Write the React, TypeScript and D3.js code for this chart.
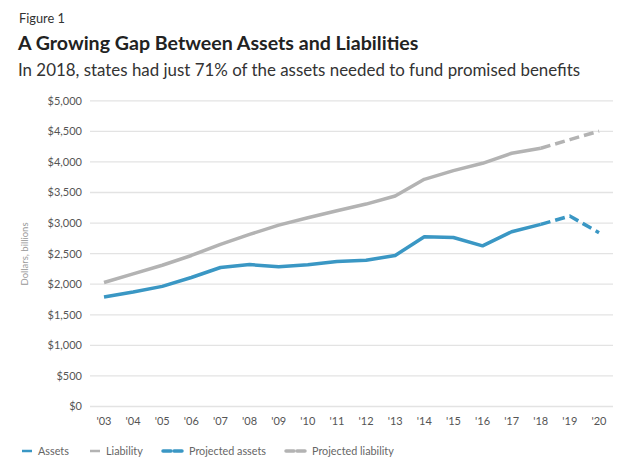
import React from "react";
import * as d3 from "d3";

const years = ["'03","'04","'05","'06","'07","'08","'09","'10","'11","'12","'13","'14","'15","'16","'17","'18","'19","'20"];
const assets = [1790, 1872, 1965, 2110, 2273, 2322, 2284, 2317, 2372, 2393, 2470, 2776, 2765, 2628, 2858, 2978, null, null];
const liability = [2028, 2170, 2310, 2470, 2651, 2815, 2967, 3087, 3202, 3311, 3443, 3716, 3858, 3978, 4142, 4224, null, null];
const projAssets = [null, null, null, null, null, null, null, null, null, null, null, null, null, null, null, 2978, 3115, 2842];
const projLiability = [null, null, null, null, null, null, null, null, null, null, null, null, null, null, null, 4224, 4365, 4503];
const yTicks = [0, 500, 1000, 1500, 2000, 2500, 3000, 3500, 4000, 4500, 5000];

const BLUE = "#3a97c4";
const GRAY = "#b3b3b3";
const FONT = "Lato, 'Open Sans', sans-serif";

export default function App() {
  const W = 640, H = 467;
  const x = d3.scalePoint<string>().domain(years).range([104, 599]);
  const y = d3.scaleLinear().domain([0, 5000]).range([406.5, 100.8]);
  const line = d3
    .line<number | null>()
    .defined((d) => d != null)
    .x((_, i) => x(years[i]) as number)
    .y((d) => y(d as number));

  const legend = [
    { label: "Assets", color: BLUE, dashed: false, x0: 22, tx: 38 },
    { label: "Liability", color: GRAY, dashed: false, x0: 90, tx: 106 },
    { label: "Projected assets", color: BLUE, dashed: true, x0: 163, tx: 189 },
    { label: "Projected liability", color: GRAY, dashed: true, x0: 286, tx: 312 },
  ];

  return (
    <svg width={W} height={H} style={{ position: "absolute", left: 0, top: 0, background: "#fff" }} fontFamily={FONT}>
      <text x={19} y={23} fontSize={12.8} fill="#333">Figure 1</text>
      <text x={18} y={50} fontSize={19.6} fontWeight={700} fill="#222">A Growing Gap Between Assets and Liabilities</text>
      <text x={18} y={76} fontSize={16.9} fill="#333">In 2018, states had just 71% of the assets needed to fund promised benefits</text>

      {yTicks.map((t) => (
        <g key={t}>
          <line x1={90} x2={613} y1={y(t)} y2={y(t)} stroke="#e3e3e3" strokeWidth={1.3} />
          <text x={82} y={y(t)} dy="0.35em" textAnchor="end" fontSize={11} fill="#555">
            {d3.format("$,")(t)}
          </text>
        </g>
      ))}
      {years.map((yr) => (
        <text key={yr} x={x(yr)} y={425} textAnchor="middle" fontSize={11} fill="#555">{yr}</text>
      ))}
      <text transform="translate(28,254) rotate(-90)" textAnchor="middle" fontSize={9.5} fill="#999">Dollars, billions</text>

      <path d={line(liability) || ""} fill="none" stroke={GRAY} strokeWidth={3.5} strokeLinejoin="round" />
      <path d={line(assets) || ""} fill="none" stroke={BLUE} strokeWidth={3.5} strokeLinejoin="round" />
      <path d={line(projLiability) || ""} fill="none" stroke={GRAY} strokeWidth={3.5} strokeDasharray="10,5" />
      <path d={line(projAssets) || ""} fill="none" stroke={BLUE} strokeWidth={3.5} strokeDasharray="10,5" />

      {legend.map((l) => (
        <g key={l.label}>
          {l.dashed ? (
            <>
              <line x1={l.x0} x2={l.x0 + 8} y1={451} y2={451} stroke={l.color} strokeWidth={3.5} strokeLinecap="round" />
              <line x1={l.x0 + 11} x2={l.x0 + 19} y1={451} y2={451} stroke={l.color} strokeWidth={3.5} strokeLinecap="round" />
            </>
          ) : (
            <line x1={l.x0} x2={l.x0 + 10} y1={451} y2={451} stroke={l.color} strokeWidth={2.5} />
          )}
          <text x={l.tx} y={451} dy="0.35em" fontSize={10.8} fill="#666">{l.label}</text>
        </g>
      ))}
    </svg>
  );
}
